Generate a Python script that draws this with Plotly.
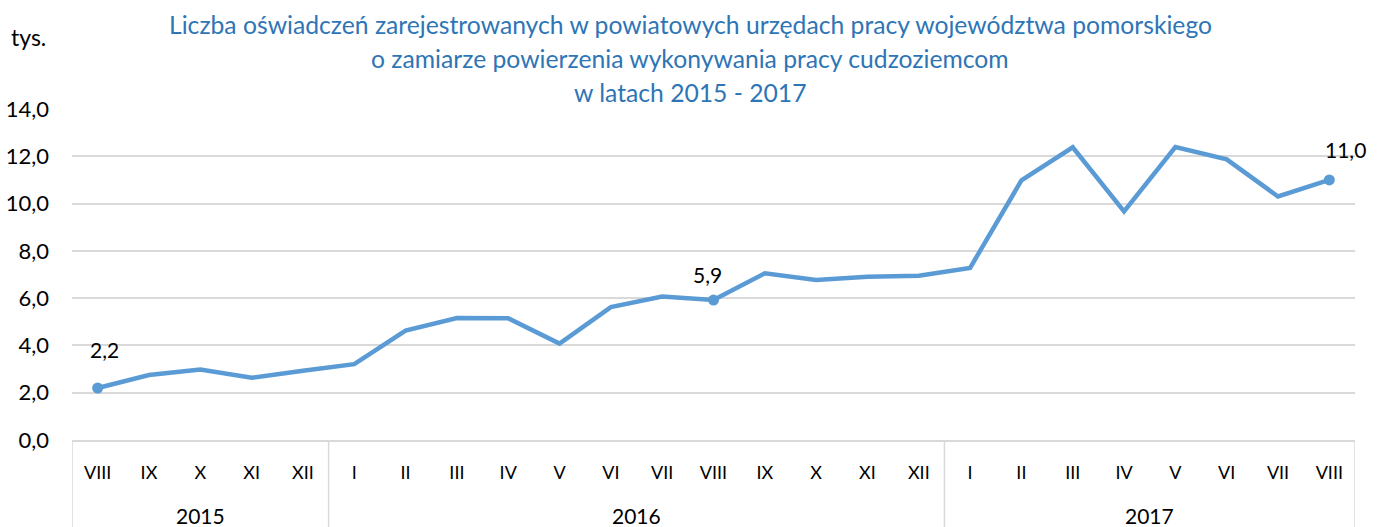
import plotly.graph_objects as go

years = ["2015"] * 5 + ["2016"] * 12 + ["2017"] * 8
months = ["VIII", "IX", "X", "XI", "XII",
          "I", "II", "III", "IV", "V", "VI", "VII", "VIII", "IX", "X", "XI", "XII",
          "I", "II", "III", "IV", "V", "VI", "VII", "VIII"]
values = [2.2, 2.75, 2.98, 2.63, 2.93,
          3.21, 4.63, 5.16, 5.15, 4.08, 5.62, 6.07, 5.92, 7.05, 6.77, 6.9, 6.95,
          7.28, 10.98, 12.38, 9.67, 12.39, 11.87, 10.3, 11.0]
labeled_idx = [0, 12, 24]
label_shift = [(7, 38), (-6, 26), (16, 30)]  # (x, y) pixel offsets of data labels

title_lines = [
    "Liczba oświadczeń zarejestrowanych w powiatowych urzędach pracy województwa pomorskiego",
    "o zamiarze powierzenia wykonywania pracy cudzoziemcom",
    "w latach 2015 - 2017",
]
y_unit = "tys."

LINE = "#5B9BD5"
GRID = "#D9D9D9"
FONT = "Lato"
W, H = 1383, 527
ML, MR, MT, MB = 72, 28, 109, 87
PW = W - ML - MR
PH = H - MT - MB

idx = list(range(len(values)))

fig = go.Figure()
fig.add_trace(go.Scatter(
    x=idx, y=values, mode="lines",
    line=dict(color=LINE, width=4.5), hoverinfo="skip", showlegend=False,
))
fig.add_trace(go.Scatter(
    x=labeled_idx, y=[values[i] for i in labeled_idx], mode="markers",
    marker=dict(color=LINE, size=11), hoverinfo="skip", showlegend=False,
))


def py(ypx):
    return (H - MB - ypx) / PH


def px(xpx):
    return (xpx - ML) / PW


annotations = []
for i, (dx, dy) in zip(labeled_idx, label_shift):
    annotations.append(dict(
        x=i, y=values[i], xref="x", yref="y",
        text=f"{values[i]:.1f}".replace(".", ","), showarrow=False,
        xshift=dx, yshift=dy, font=dict(family=FONT, size=21, color="#000000"),
    ))
for t, yy in zip(title_lines, [24, 59, 92]):
    annotations.append(dict(
        x=px(690), y=py(yy), xref="paper", yref="paper",
        xanchor="center", yanchor="middle", showarrow=False,
        text=t, font=dict(family=FONT, size=24.7, color="#2E75B6"),
    ))
annotations.append(dict(
    x=px(9), y=py(37), xref="paper", yref="paper",
    xanchor="left", yanchor="middle", showarrow=False, text=y_unit,
    font=dict(family=FONT, size=23, color="#000000"),
))

# year groups: labels and dividers derived from the data lists
groups = []
for i, yv in enumerate(years):
    if not groups or groups[-1][0] != yv:
        groups.append([yv, i, i])
    else:
        groups[-1][2] = i
shapes = []
for yv, a, b in groups:
    annotations.append(dict(
        x=(a + b) / 2, y=py(515), xref="x", yref="paper",
        xanchor="center", yanchor="middle", showarrow=False, text=yv,
        font=dict(family=FONT, size=21, color="#000000"),
    ))
    shapes.append(dict(type="line", xref="x", yref="paper", x0=a - 0.5, x1=a - 0.5,
                       y0=0, y1=py(H + 5), line=dict(color=GRID, width=1.5)))
shapes.append(dict(type="line", xref="x", yref="paper",
                   x0=groups[-1][2] + 0.5, x1=groups[-1][2] + 0.5,
                   y0=0, y1=py(H + 5), line=dict(color=GRID, width=1.5)))

fig.update_layout(
    width=W, height=H,
    margin=dict(l=ML, r=MR, t=MT, b=MB, autoexpand=False),
    paper_bgcolor="white", plot_bgcolor="white",
    separators=",.",
    annotations=annotations, shapes=shapes,
    font=dict(family=FONT, size=18, color="#000000"),
)
fig.update_xaxes(
    automargin=False,
    range=[-0.5, len(values) - 0.5], tickmode="array", tickvals=idx, ticktext=months,
    showgrid=False, zeroline=False, showline=True, linecolor=GRID, linewidth=1.5,
    ticks="", ticklabelstandoff=16,
    tickfont=dict(family=FONT, size=18, color="#000000"),
)
fig.update_yaxes(
    automargin=False,
    range=[0, 14], dtick=2, tickformat=".1f", showgrid=True, gridcolor=GRID,
    gridwidth=1.5, zeroline=False, showline=False, ticks="",
    ticklabelstandoff=22,
    tickfont=dict(family=FONT, size=22, color="#000000"),
)

fig.write_html(
    "out.html",
    config={"displayModeBar": False},
    post_script="document.body.style.margin='0';document.body.style.overflow='hidden';",
)
